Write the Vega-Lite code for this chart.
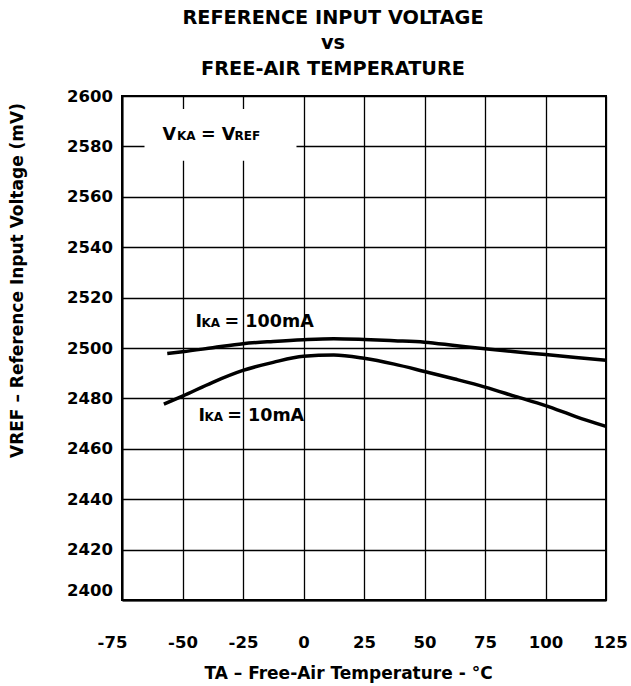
{
  "$schema": "https://vega.github.io/schema/vega-lite/v6.json",
  "width": 484,
  "height": 504,
  "autosize": {"type": "none"},
  "padding": {"left": 122, "top": 96, "right": 25, "bottom": 86},
  "background": "white",
  "title": {
    "text": ["REFERENCE INPUT VOLTAGE", "vs", "FREE-AIR TEMPERATURE"],
    "font": "DejaVu Sans",
    "fontWeight": "bold",
    "fontSize": 19.3,
    "lineHeight": 25.5,
    "color": "black",
    "anchor": "middle",
    "frame": "group",
    "baseline": "bottom",
    "offset": 18,
    "dx": -31,
    "dy": 28
  },
  "config": {
    "view": {"stroke": "black", "strokeWidth": 2},
    "font": "DejaVu Sans",
    "axis": {
      "labelFont": "DejaVu Sans",
      "labelFontWeight": "bold",
      "labelFontSize": 16.5,
      "labelColor": "black",
      "titleFont": "DejaVu Sans",
      "titleFontWeight": "bold",
      "titleFontSize": 17,
      "titleColor": "black",
      "domainColor": "black",
      "domainWidth": 2,
      "gridColor": "black",
      "gridWidth": 1.3,
      "gridOpacity": 1,
      "ticks": false,
      "tickSize": 0,
      "labelOverlap": false,
      "labelFlush": false
    }
  },
  "datasets": {
    "curves": [
      {"T": -56.3, "V": 2497.8, "series": "IKA = 100mA"},
      {"T": -50, "V": 2498.5, "series": "IKA = 100mA"},
      {"T": -37.5, "V": 2500.1, "series": "IKA = 100mA"},
      {"T": -25, "V": 2501.7, "series": "IKA = 100mA"},
      {"T": -12.5, "V": 2502.6, "series": "IKA = 100mA"},
      {"T": 0, "V": 2503.3, "series": "IKA = 100mA"},
      {"T": 12.5, "V": 2503.7, "series": "IKA = 100mA"},
      {"T": 25, "V": 2503.4, "series": "IKA = 100mA"},
      {"T": 37.5, "V": 2502.9, "series": "IKA = 100mA"},
      {"T": 50, "V": 2502.3, "series": "IKA = 100mA"},
      {"T": 62.5, "V": 2501.0, "series": "IKA = 100mA"},
      {"T": 75, "V": 2499.7, "series": "IKA = 100mA"},
      {"T": 87.5, "V": 2498.5, "series": "IKA = 100mA"},
      {"T": 100, "V": 2497.4, "series": "IKA = 100mA"},
      {"T": 112.5, "V": 2496.2, "series": "IKA = 100mA"},
      {"T": 125, "V": 2495.1, "series": "IKA = 100mA"},
      {"T": -57.7, "V": 2477.7, "series": "IKA = 10mA"},
      {"T": -50, "V": 2480.9, "series": "IKA = 10mA"},
      {"T": -37.5, "V": 2486.4, "series": "IKA = 10mA"},
      {"T": -25, "V": 2491.1, "series": "IKA = 10mA"},
      {"T": -12.5, "V": 2494.3, "series": "IKA = 10mA"},
      {"T": 0, "V": 2496.7, "series": "IKA = 10mA"},
      {"T": 12.5, "V": 2497.2, "series": "IKA = 10mA"},
      {"T": 25, "V": 2495.9, "series": "IKA = 10mA"},
      {"T": 37.5, "V": 2493.6, "series": "IKA = 10mA"},
      {"T": 50, "V": 2490.7, "series": "IKA = 10mA"},
      {"T": 62.5, "V": 2487.7, "series": "IKA = 10mA"},
      {"T": 75, "V": 2484.5, "series": "IKA = 10mA"},
      {"T": 87.5, "V": 2480.8, "series": "IKA = 10mA"},
      {"T": 100, "V": 2477.1, "series": "IKA = 10mA"},
      {"T": 112.5, "V": 2472.8, "series": "IKA = 10mA"},
      {"T": 125, "V": 2468.9, "series": "IKA = 10mA"}
    ],
    "box": [
      {"x1": -65.7, "x2": -2.9, "y1": 2594.8, "y2": 2574.3}
    ],
    "labels": [
      {"x": -44.6, "y": 2508.5, "text": "I", "role": "main"},
      {"x": -42.2, "y": 2508.5, "text": "KA", "role": "sub"},
      {"x": -32.6, "y": 2508.5, "text": "= 100mA", "role": "main"},
      {"x": -43.4, "y": 2471.2, "text": "I", "role": "main"},
      {"x": -40.9, "y": 2471.2, "text": "KA", "role": "sub"},
      {"x": -31.5, "y": 2471.2, "text": "= 10mA", "role": "main"},
      {"x": -58.3, "y": 2582.5, "text": "V", "role": "main"},
      {"x": -52.3, "y": 2582.5, "text": "KA", "role": "sub"},
      {"x": -42.4, "y": 2582.5, "text": "= V", "role": "main"},
      {"x": -28.5, "y": 2582.5, "text": "REF", "role": "sub"}
    ]
  },
  "layer": [
    {
      "data": {"name": "box"},
      "mark": {"type": "rect", "fill": "white", "stroke": null},
      "encoding": {
        "x": {
          "field": "x1", "type": "quantitative",
          "scale": {"domain": [-75, 125], "nice": false, "zero": false},
          "axis": {
            "values": [-75, -50, -25, 0, 25, 50, 75, 100, 125],
            "labelExpr": "'' + datum.value",
            "grid": true,
            "labelPadding": 34,
            "labelOffset": {"condition": [{"test": "datum.value === -75", "value": -10}, {"test": "datum.value === 125", "value": 4}], "value": 0},
            "title": "TA – Free-Air Temperature - °C",
            "titleX": 226,
            "titleY": 78,
            "titleBaseline": "alphabetic",
            "titleAnchor": null
          }
        },
        "x2": {"field": "x2"},
        "y": {
          "field": "y1", "type": "quantitative",
          "scale": {"domain": [2400, 2600], "nice": false, "zero": false},
          "axis": {
            "values": [2400, 2420, 2440, 2460, 2480, 2500, 2520, 2540, 2560, 2580, 2600],
            "labelExpr": "'' + datum.value",
            "grid": true,
            "labelPadding": 9.5,
            "labelOffset": {"condition": {"test": "datum.value === 2400", "value": -10}, "value": 0},
            "title": "VREF – Reference Input Voltage (mV)",
            "titleAngle": -90,
            "titleX": -105,
            "titleY": 184,
            "titleAlign": "center",
            "titleBaseline": "middle",
            "titleAnchor": null
          }
        },
        "y2": {"field": "y2"}
      }
    },
    {
      "data": {"name": "curves"},
      "mark": {"type": "line", "color": "black", "strokeWidth": 3.5, "interpolate": "monotone"},
      "encoding": {
        "x": {"field": "T", "type": "quantitative"},
        "y": {"field": "V", "type": "quantitative"},
        "detail": {"field": "series", "type": "nominal"}
      }
    },
    {
      "data": {"name": "labels"},
      "transform": [{"filter": "datum.role === 'main'"}],
      "mark": {"type": "text", "align": "left", "baseline": "alphabetic", "font": "DejaVu Sans", "fontWeight": "bold", "fontSize": 17.5, "color": "black"},
      "encoding": {
        "x": {"field": "x", "type": "quantitative"},
        "y": {"field": "y", "type": "quantitative"},
        "text": {"field": "text"}
      }
    },
    {
      "data": {"name": "labels"},
      "transform": [{"filter": "datum.role === 'sub'"}],
      "mark": {"type": "text", "align": "left", "baseline": "alphabetic", "font": "DejaVu Sans", "fontWeight": "bold", "fontSize": 12, "color": "black"},
      "encoding": {
        "x": {"field": "x", "type": "quantitative"},
        "y": {"field": "y", "type": "quantitative"},
        "text": {"field": "text"}
      }
    }
  ]
}
